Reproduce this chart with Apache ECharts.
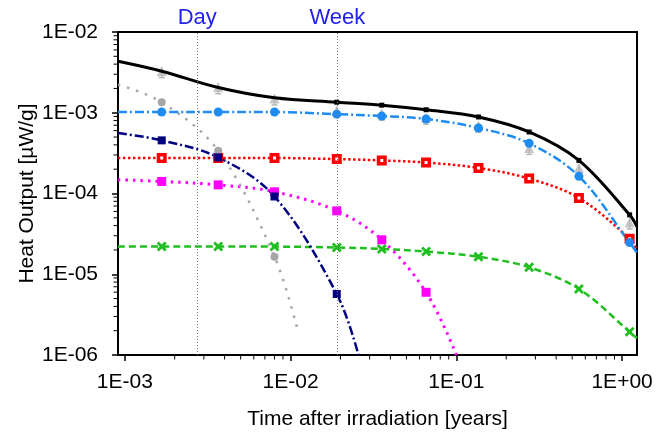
<!DOCTYPE html>
<html>
<head>
<meta charset="utf-8">
<script src="https://cdn.jsdelivr.net/npm/echarts@6.0.0/dist/echarts.min.js"></script>
<style>
html, body { margin: 0; padding: 0; background: #fff; }
#main { width: 659px; height: 432px; }
</style>
</head>
<body>
<div id="main"></div>
<script>
// axis ranges and ticks
var xMin = 0.00091, xMax = 1.23;
var yMin = 1e-6, yMax = 1e-2;
var xMajor = [0.001, 0.01, 0.1, 1];
var xMinor = [0.002, 0.003, 0.004, 0.005, 0.006, 0.007, 0.008, 0.009,
              0.02, 0.03, 0.04, 0.05, 0.06, 0.07, 0.08, 0.09,
              0.2, 0.3, 0.4, 0.5, 0.6, 0.7, 0.8, 0.9];
var yMajor = [1e-6, 1e-5, 1e-4, 1e-3, 1e-2];
var yMinor = [2e-6, 3e-6, 4e-6, 5e-6, 6e-6, 7e-6, 8e-6, 9e-6,
              2e-5, 3e-5, 4e-5, 5e-5, 6e-5, 7e-5, 8e-5, 9e-5,
              2e-4, 3e-4, 4e-4, 5e-4, 6e-4, 7e-4, 8e-4, 9e-4,
              2e-3, 3e-3, 4e-3, 5e-3, 6e-3, 7e-3, 8e-3, 9e-3];

// reference lines (years)
var markTimes = [1 / 365.25, 7 / 365.25];
var markNames = ['Day', 'Week'];

// measurement times (years)
var times = [0.00167, 0.00366, 0.0080, 0.0190, 0.0355, 0.0657, 0.136, 0.275, 0.549, 1.11];

// calculated components (uW/g) at the marker times, plus curve end points
var total = [3.27e-3, 2.05e-3, 1.53e-3, 1.35e-3, 1.24e-3, 1.09e-3, 8.87e-4, 5.78e-4, 2.57e-4, 5.44e-5];
var totalEnds = [[xMin, 4.34e-3], [xMax, 3.9e-5]];
var blue = [1.02e-3, 1.02e-3, 1.02e-3, 9.6e-4, 9.1e-4, 8.38e-4, 6.48e-4, 4.18e-4, 1.63e-4, 2.47e-5];
var blueEnds = [[xMin, 1.02e-3], [xMax, 1.84e-5]];
var gray = [1.35e-3, 3.39e-4, 1.65e-5];
var grayEnds = [[xMin, 2.23e-3], [0.0110, 2.09e-6]];
var navy = [4.55e-4, 2.8e-4, 9.18e-5, 5.7e-6];
var navyEnds = [[xMin, 5.61e-4], [0.0257, 1.0e-6]];
var red = [2.75e-4, 2.75e-4, 2.75e-4, 2.67e-4, 2.57e-4, 2.42e-4, 2.07e-4, 1.53e-4, 8.77e-5, 2.76e-5];
var redEnds = [[xMin, 2.75e-4], [xMax, 2.0e-5]];
var magenta = [1.41e-4, 1.28e-4, 1.05e-4, 6.1e-5, 2.67e-5, 5.98e-6];
var magentaEnds = [[xMin, 1.48e-4], [0.1002, 1.0e-6]];
var green = [2.2e-5, 2.2e-5, 2.2e-5, 2.14e-5, 2.06e-5, 1.91e-5, 1.65e-5, 1.22e-5, 6.58e-6, 1.94e-6];
var greenEnds = [[xMin, 2.2e-5], [xMax, 1.61e-6]];

// measured total with error bars
var measured = [3.27e-3, 2.07e-3, 1.50e-3, 1.06e-3, 9.7e-4, 8.6e-4, 6.9e-4, 3.66e-4, 2.07e-4, 4.37e-5];
var measLow = [2.72e-3, 1.72e-3, 1.25e-3, 8.8e-4, 8.1e-4, 7.2e-4, 5.75e-4, 3.05e-4, 1.72e-4, 3.64e-5];
var measHigh = [3.66e-3, 2.32e-3, 1.68e-3, 1.19e-3, 1.09e-3, 9.6e-4, 7.7e-4, 4.1e-4, 2.32e-4, 4.9e-5];

var FONT = 'Liberation Sans';
var crossPath = 'path://M0,2L2,0L5,3L8,0L10,2L7,5L10,8L8,10L5,7L2,10L0,8L3,5Z';

function curve(marks, ends, hideFirst) {
  var d = [{ value: ends[0], symbol: 'none' }];
  marks.forEach(function (v, i) {
    var item = { value: [times[i], v] };
    if (hideFirst && i < hideFirst) item.symbol = 'none';
    d.push(item);
  });
  d.push({ value: ends[1], symbol: 'none' });
  return d;
}

function sciLabel(v) {
  var e = Math.round(Math.log10(v));
  var a = Math.abs(e);
  return '1E' + (e < 0 ? '-' : '+') + (a < 10 ? '0' : '') + a;
}

function lineSeries(data, color, width, dash, symbol, size, extra) {
  var s = {
    type: 'line',
    data: data,
    smooth: 0.35,
    symbol: symbol,
    symbolSize: size,
    showAllSymbol: true,
    lineStyle: { color: color, width: width, type: dash },
    itemStyle: { color: color },
    emphasis: { disabled: true },
    animation: false
  };
  return Object.assign(s, extra || {});
}

// short ticks between the decades, placed with the axis scale
function minorTicks(values, onX) {
  return {
    type: 'custom',
    silent: true,
    clip: false,
    z: 5,
    encode: { x: 0, y: 1 },
    data: values.map(function (v) { return onX ? [v, yMin] : [xMin, v]; }),
    renderItem: function (params, api) {
      var p = api.coord([api.value(0), api.value(1)]);
      var shape = onX
        ? { x1: p[0], y1: p[1], x2: p[0], y2: p[1] + 4.5 }
        : { x1: p[0] - 4.5, y1: p[1], x2: p[0], y2: p[1] };
      return { type: 'line', shape: shape, style: { stroke: '#000', lineWidth: 1 } };
    },
    animation: false
  };
}

var chart = echarts.init(document.getElementById('main'), null, { renderer: 'canvas' });

var option = {
  animation: false,
  grid: {
    left: 118, right: 22, top: 32, bottom: 77,
    outerBoundsMode: 'none',
    show: true, borderColor: '#000', borderWidth: 2, backgroundColor: 'transparent'
  },
  xAxis: {
    type: 'log', min: xMin, max: xMax, position: 'bottom',
    name: 'Time after irradiation [years]', nameLocation: 'middle', nameGap: 54,
    nameMoveOverlap: false,
    nameTextStyle: { fontFamily: FONT, fontSize: 21, color: '#000' },
    axisLine: { lineStyle: { color: '#000', width: 2 } },
    axisTick: { length: 6, lineStyle: { color: '#000', width: 1.5 }, customValues: xMajor },
    axisLabel: { customValues: xMajor, formatter: sciLabel, margin: 17,
                 fontFamily: FONT, fontSize: 21, color: '#000' },
    splitLine: { show: false }
  },
  yAxis: {
    type: 'log', min: yMin, max: yMax, position: 'left',
    name: 'Heat Output [µW/g]', nameLocation: 'middle', nameGap: 80,
    nameMoveOverlap: false,
    nameTextStyle: { fontFamily: FONT, fontSize: 21, color: '#000' },
    axisLine: { lineStyle: { color: '#000', width: 2 } },
    axisTick: { length: 6, lineStyle: { color: '#000', width: 1.5 }, customValues: yMajor },
    axisLabel: { customValues: yMajor, formatter: sciLabel, margin: 20,
                 fontFamily: FONT, fontSize: 21, color: '#000' },
    splitLine: { show: false }
  },
  series: [
    minorTicks(xMinor, true),
    minorTicks(yMinor, false),
    lineSeries(curve(green, greenEnds), '#1fbf1f', 2.5, [7, 4], crossPath, 10),
    lineSeries(curve(magenta, magentaEnds), '#ff00ff', 3, [2.5, 5], 'rect', 9),
    lineSeries(curve(red, redEnds), '#ff0000', 2.5, [2.5, 2.5], 'rect', 6.5, {
      itemStyle: { color: '#fff', borderColor: '#ff0000', borderWidth: 3.5 }
    }),
    lineSeries(curve(gray, grayEnds), '#a6a6a6', 2.5, [2.5, 7], 'circle', 8),
    lineSeries(curve(navy, navyEnds), '#000080', 2.5, [9, 3, 2, 3], 'rect', 8),
    lineSeries(curve(blue, blueEnds), '#1e8cf0', 2.5, [9, 3, 2, 3], 'circle', 9),
    lineSeries(curve(total, totalEnds, 3), '#000', 3, 'solid', 'rect', 5, {
      markLine: {
        silent: true,
        symbol: 'none',
        precision: 8,
        lineStyle: { color: '#777', type: [1, 2], width: 1 },
        label: { position: 'end', formatter: '{b}', distance: 3,
                 color: '#2222ee', fontFamily: FONT, fontSize: 22 },
        data: markTimes.map(function (t, i) { return { xAxis: t, name: markNames[i] }; })
      }
    }),
    {
      // error bars of the measured points; the upper end sits inside the triangle
      type: 'custom',
      silent: true,
      renderItem: function (params, api) {
        var lo = api.coord([api.value(0), api.value(1)]);
        var hi = api.coord([api.value(0), api.value(2)]);
        var st = { stroke: '#b8b8b8', lineWidth: 1.5 };
        return {
          type: 'group',
          children: [
            { type: 'line', shape: { x1: lo[0], y1: lo[1], x2: hi[0], y2: hi[1] }, style: st },
            { type: 'line', shape: { x1: lo[0] - 3, y1: lo[1], x2: lo[0] + 3, y2: lo[1] }, style: st }
          ]
        };
      },
      encode: { x: 0, y: [1, 2] },
      data: times.map(function (t, i) { return [t, measLow[i], measHigh[i]]; }),
      animation: false
    },
    {
      type: 'scatter',
      data: times.map(function (t, i) { return [t, measured[i]]; }),
      symbol: 'triangle',
      symbolSize: 10,
      itemStyle: { color: '#b8b8b8' },
      emphasis: { disabled: true },
      animation: false
    }
  ]
};

chart.setOption(option);
</script>
</body>
</html>
